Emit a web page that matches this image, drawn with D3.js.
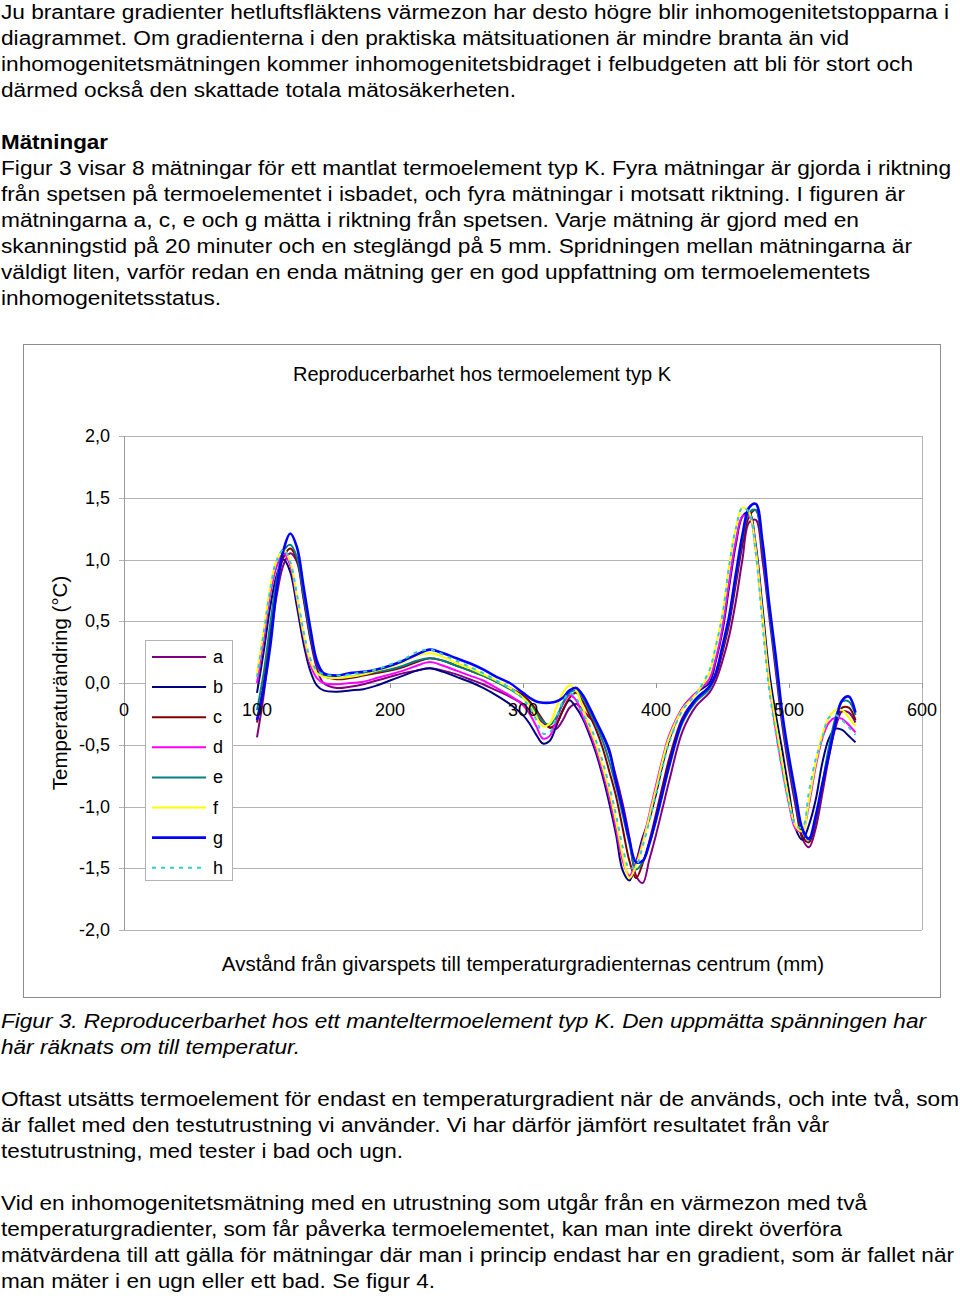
<!DOCTYPE html>
<html>
<head>
<meta charset="utf-8">
<script src="https://cdnjs.cloudflare.com/ajax/libs/d3/7.8.5/d3.min.js"></script>
<style>
body{margin:0;background:#fff;}
text{font-family:"Liberation Sans",Arial,sans-serif;fill:#000;}
</style>
</head>
<body>
<svg id="page" width="960" height="1296"></svg>
<script>
// distance from the sensor tip (mm), shared by every series
var avstand = [100,105,110,115,120,125,130,135,140,145,150,160,170,180,190,200,210,220,230,240,250,260,270,280,290,300,
  305,310,315,320,325,330,335,340,345,350,355,360,365,370,375,380,385,390,395,400,405,410,420,430,440,
  445,450,455,460,465,470,475,480,485,490,495,500,505,510,515,520,525,530,535,540,545,550];

// temperature change per measurement (°C)
var serA = [-0.44,-0.1,0.35,0.72,0.96,1.05,0.98,0.68,0.36,0.12,0.0,
  -0.04,-0.03,-0.01,0.02,0.05,0.08,0.1,0.12,0.1,0.07,0.03,-0.01,-0.06,-0.11,-0.17,
  -0.22,-0.27,-0.32,-0.36,-0.37,-0.3,-0.2,-0.17,-0.22,-0.28,-0.33,-0.42,-0.57,-0.76,-0.98,-1.25,-1.56,-1.62,-1.43,-1.23,-1.01,-0.79,
  -0.39,-0.19,-0.08,
  0.02,0.18,0.38,0.66,1.0,1.3,1.32,1.0,0.55,0.1,-0.35,-0.7,-1.0,-1.26,-1.33,-1.18,-0.9,-0.6,-0.36,-0.23,-0.24,-0.32];
var serB = [-0.08,0.25,0.62,0.88,1.0,0.9,0.62,0.32,0.1,-0.02,-0.06,
  -0.07,-0.06,-0.05,-0.02,0.02,0.06,0.1,0.12,0.09,0.05,0.01,-0.04,-0.1,-0.17,-0.26,
  -0.33,-0.42,-0.49,-0.47,-0.35,-0.22,-0.14,-0.2,-0.29,-0.42,-0.57,-0.76,-0.98,-1.23,-1.52,-1.6,-1.45,-1.25,-1.1,-0.9,-0.66,-0.46,
  -0.2,-0.08,0.0,
  0.18,0.42,0.78,1.12,1.35,1.38,1.12,0.62,0.1,-0.25,-0.55,-0.88,-1.18,-1.27,-1.15,-0.95,-0.65,-0.45,-0.37,-0.38,-0.43,-0.48];
var serC = [-0.32,0.0,0.42,0.8,1.02,1.09,1.0,0.7,0.38,0.16,0.06,
  0.03,0.04,0.06,0.08,0.1,0.13,0.17,0.2,0.18,0.14,0.1,0.06,0.01,-0.04,-0.1,
  -0.15,-0.22,-0.3,-0.36,-0.33,-0.22,-0.12,-0.08,-0.15,-0.26,-0.38,-0.53,-0.72,-0.92,-1.18,-1.44,-1.58,-1.46,-1.28,-1.06,-0.83,-0.61,
  -0.28,-0.13,-0.04,
  0.06,0.25,0.48,0.8,1.12,1.35,1.4,1.1,0.6,0.15,-0.3,-0.65,-0.95,-1.24,-1.29,-1.12,-0.84,-0.55,-0.32,-0.2,-0.2,-0.3];
var serD = [0.0,0.35,0.72,0.95,1.05,0.95,0.68,0.38,0.15,0.04,0.0,
  -0.01,0.0,0.01,0.04,0.07,0.1,0.14,0.17,0.14,0.1,0.06,0.02,-0.04,-0.1,-0.18,
  -0.25,-0.35,-0.45,-0.43,-0.3,-0.17,-0.1,-0.14,-0.27,-0.39,-0.54,-0.72,-0.93,-1.18,-1.44,-1.56,-1.46,-1.28,-1.06,-0.83,-0.61,-0.42,
  -0.2,-0.08,0.03,
  0.2,0.45,0.82,1.15,1.35,1.35,1.08,0.55,0.02,-0.38,-0.7,-0.98,-1.18,-1.2,-0.98,-0.68,-0.45,-0.32,-0.28,-0.29,-0.34,-0.4];
var serE = [-0.22,0.08,0.48,0.85,1.07,1.12,1.02,0.72,0.4,0.17,0.07,
  0.04,0.05,0.07,0.09,0.11,0.14,0.18,0.2,0.18,0.14,0.1,0.06,0.01,-0.05,-0.12,
  -0.17,-0.24,-0.31,-0.34,-0.28,-0.16,-0.08,-0.06,-0.12,-0.23,-0.34,-0.47,-0.64,-0.84,-1.07,-1.3,-1.51,-1.45,-1.3,-1.12,-0.9,-0.68,
  -0.32,-0.15,-0.05,
  0.08,0.28,0.52,0.85,1.17,1.38,1.4,1.1,0.6,0.16,-0.3,-0.64,-0.94,-1.2,-1.27,-1.1,-0.82,-0.52,-0.28,-0.15,-0.15,-0.26];
var serF = [0.08,0.42,0.78,1.0,1.08,0.98,0.7,0.4,0.18,0.08,0.05,
  0.04,0.05,0.07,0.1,0.13,0.17,0.22,0.24,0.21,0.16,0.12,0.07,0.02,-0.04,-0.12,
  -0.18,-0.27,-0.35,-0.33,-0.2,-0.08,-0.02,-0.06,-0.2,-0.36,-0.5,-0.68,-0.88,-1.12,-1.4,-1.58,-1.48,-1.3,-1.08,-0.86,-0.63,-0.44,
  -0.21,-0.09,0.08,
  0.3,0.56,0.95,1.25,1.42,1.38,1.08,0.55,0.02,-0.33,-0.65,-0.95,-1.16,-1.2,-0.95,-0.65,-0.42,-0.28,-0.22,-0.22,-0.28,-0.35];
var serG = [-0.3,-0.05,0.3,0.78,1.08,1.21,1.1,0.78,0.45,0.18,0.08,
  0.06,0.08,0.09,0.11,0.14,0.18,0.23,0.27,0.24,0.2,0.16,0.11,0.05,0.0,-0.08,
  -0.12,-0.15,-0.16,-0.16,-0.15,-0.12,-0.06,-0.04,-0.1,-0.2,-0.31,-0.42,-0.55,-0.8,-1.02,-1.27,-1.45,-1.44,-1.3,-1.1,-0.88,-0.66,
  -0.3,-0.13,-0.03,
  0.08,0.3,0.54,0.88,1.2,1.42,1.45,1.15,0.65,0.22,-0.25,-0.6,-0.9,-1.18,-1.26,-1.08,-0.82,-0.58,-0.32,-0.14,-0.11,-0.24];
var serH = [0.05,0.4,0.76,1.0,1.08,0.98,0.72,0.42,0.2,0.1,0.07,
  0.06,0.07,0.09,0.11,0.15,0.19,0.25,0.27,0.23,0.18,0.13,0.08,0.02,-0.04,-0.13,
  -0.2,-0.3,-0.41,-0.4,-0.28,-0.15,-0.08,-0.12,-0.25,-0.34,-0.47,-0.64,-0.84,-1.07,-1.33,-1.5,-1.48,-1.32,-1.12,-0.9,-0.68,-0.48,
  -0.22,-0.09,0.1,
  0.3,0.55,0.95,1.25,1.42,1.38,1.05,0.48,-0.05,-0.4,-0.72,-0.98,-1.15,-1.17,-0.88,-0.62,-0.45,-0.28,-0.26,-0.3,-0.36,-0.42];

var namn = ["a","b","c","d","e","f","g","h"];
var farger = ["#800080","#000080","#800000","#ff00ff","#008080","#ffff00","#0000ff","#33cccc"];
var yTicks = [-2,-1.5,-1,-0.5,0,0.5,1,1.5,2];
var xTicks = [0,100,200,300,400,500,600];

var textTop = [
  "Ju brantare gradienter hetluftsfläktens värmezon har desto högre blir inhomogenitetstopparna i",
  "diagrammet. Om gradienterna i den praktiska mätsituationen är mindre branta än vid",
  "inhomogenitetsmätningen kommer inhomogenitetsbidraget i felbudgeten att bli för stort och",
  "därmed också den skattade totala mätosäkerheten."];
var textMatning = [
  "Figur 3 visar 8 mätningar för ett mantlat termoelement typ K. Fyra mätningar är gjorda i riktning",
  "från spetsen på termoelementet i isbadet, och fyra mätningar i motsatt riktning. I figuren är",
  "mätningarna a, c, e och g mätta i riktning från spetsen. Varje mätning är gjord med en",
  "skanningstid på 20 minuter och en steglängd på 5 mm. Spridningen mellan mätningarna är",
  "väldigt liten, varför redan en enda mätning ger en god uppfattning om termoelementets",
  "inhomogenitetsstatus."];
var textCaption = [
  "Figur 3. Reproducerbarhet hos ett manteltermoelement typ K. Den uppmätta spänningen har",
  "här räknats om till temperatur."];
var textOftast = [
  "Oftast utsätts termoelement för endast en temperaturgradient när de används, och inte två, som",
  "är fallet med den testutrustning vi använder. Vi har därför jämfört resultatet från vår",
  "testutrustning, med tester i bad och ugn."];
var textVid = [
  "Vid en inhomogenitetsmätning med en utrustning som utgår från en värmezon med två",
  "temperaturgradienter, som får påverka termoelementet, kan man inte direkt överföra",
  "mätvärdena till att gälla för mätningar där man i princip endast har en gradient, som är fallet när",
  "man mäter i en ugn eller ett bad. Se figur 4."];

var svg = d3.select("#page");

function block(lines, y0, widths, italic) {
  svg.append("g").selectAll("text")
    .data(lines)
    .enter().append("text")
    .attr("x", 1)
    .attr("y", function(d, i) { return y0 + i * 26; })
    .attr("font-size", 20)
    .attr("font-style", italic ? "italic" : "normal")
    .attr("textLength", function(d, i) { return widths[i]; })
    .attr("lengthAdjust", "spacingAndGlyphs")
    .text(function(d) { return d; });
}

block(textTop, 19, [948,848,912,515]);
svg.append("text").attr("x", 1).attr("y", 149).attr("font-size", 20)
  .attr("font-weight", "bold").attr("textLength", 107).attr("lengthAdjust", "spacingAndGlyphs")
  .text("Mätningar");
block(textMatning, 175, [950,904,858,911,869,220]);
block(textCaption, 1028, [925,299], true);
block(textOftast, 1106, [958,828,402]);
block(textVid, 1210, [866,841,953,434]);

// chart frame
svg.append("rect").attr("x", 23.5).attr("y", 344.5).attr("width", 917).attr("height", 653)
  .attr("fill", "#fff").attr("stroke", "#8c8c8c");

var x = d3.scaleLinear().domain([0, 600]).range([124, 922]);
var y = d3.scaleLinear().domain([-2, 2]).range([930, 436]);
var sv = d3.formatLocale({decimal: ",", thousands: " ", grouping: [3], currency: ["", ""], minus: "-"});
var fmt = sv.format(".1f");

var plot = svg.append("g");

plot.selectAll(".grid")
  .data(yTicks)
  .enter().append("line")
  .attr("class", "grid")
  .attr("x1", x(0) - 5).attr("x2", x(600))
  .attr("y1", function(d) { return Math.round(y(d)) + 0.5; })
  .attr("y2", function(d) { return Math.round(y(d)) + 0.5; })
  .attr("stroke", "#b3b3b3").attr("stroke-width", 1);

plot.append("line").attr("x1", x(600) + 0.5).attr("x2", x(600) + 0.5)
  .attr("y1", y(2)).attr("y2", y(-2)).attr("stroke", "#b3b3b3");
plot.append("line").attr("x1", x(0) + 0.5).attr("x2", x(0) + 0.5)
  .attr("y1", y(2)).attr("y2", y(-2)).attr("stroke", "#999");

// x axis ticks on the zero line
plot.selectAll(".xtick")
  .data(xTicks)
  .enter().append("line")
  .attr("x1", function(d) { return Math.round(x(d)) + 0.5; })
  .attr("x2", function(d) { return Math.round(x(d)) + 0.5; })
  .attr("y1", y(0)).attr("y2", y(0) + 5)
  .attr("stroke", "#999");

plot.selectAll(".ylab")
  .data(yTicks)
  .enter().append("text")
  .attr("x", 110).attr("y", function(d) { return y(d) + 6; })
  .attr("text-anchor", "end").attr("font-size", 18)
  .text(function(d) { return fmt(d); });

// lines
var serier = [serA, serB, serC, serD, serE, serF, serG, serH];
var line = d3.line()
  .x(function(d) { return x(d[0]); })
  .y(function(d) { return y(d[1]); })
  .curve(d3.curveCatmullRom.alpha(0.5));

plot.selectAll(".serie")
  .data(serier)
  .enter().append("path")
  .attr("class", "serie")
  .attr("fill", "none")
  .attr("stroke", function(d, i) { return farger[i]; })
  .attr("stroke-width", function(d, i) { return i == 6 ? 2.6 : 2; })
  .attr("stroke-dasharray", function(d, i) { return i == 7 ? "4,5" : null; })
  .attr("d", function(d) { return line(d3.zip(avstand, d)); });

plot.selectAll(".xlab")
  .data(xTicks)
  .enter().append("text")
  .attr("x", function(d) { return x(d); }).attr("y", 716)
  .attr("text-anchor", "middle").attr("font-size", 18)
  .text(function(d) { return d; });

// legend
var leg = svg.append("g");
leg.append("rect").attr("x", 145.5).attr("y", 640.5).attr("width", 87).attr("height", 240)
  .attr("fill", "#fff").attr("stroke", "#b3b3b3");
var item = leg.selectAll(".legend")
  .data(namn)
  .enter().append("g")
  .attr("class", "legend")
  .attr("transform", function(d, i) { return "translate(0," + (657 + i * 30.1) + ")"; });
item.append("line")
  .attr("x1", 152).attr("x2", 206).attr("y1", 0).attr("y2", 0)
  .attr("stroke", function(d, i) { return farger[i]; })
  .attr("stroke-width", function(d, i) { return i == 6 ? 2.6 : 2; })
  .attr("stroke-dasharray", function(d, i) { return i == 7 ? "4,5" : null; });
item.append("text").attr("x", 213).attr("y", 6).attr("font-size", 18)
  .text(function(d) { return d; });

// titles
svg.append("text").attr("x", 482).attr("y", 381).attr("text-anchor", "middle")
  .attr("font-size", 20).text("Reproducerbarhet hos termoelement typ K");
svg.append("text").attr("x", 523).attr("y", 971).attr("text-anchor", "middle")
  .attr("font-size", 20.5).text("Avstånd från givarspets till temperaturgradienternas centrum (mm)");
svg.append("text").attr("transform", "translate(67,683) rotate(-90)").attr("text-anchor", "middle")
  .attr("font-size", 20.5).text("Temperaturändring (°C)");
</script>
</body>
</html>
